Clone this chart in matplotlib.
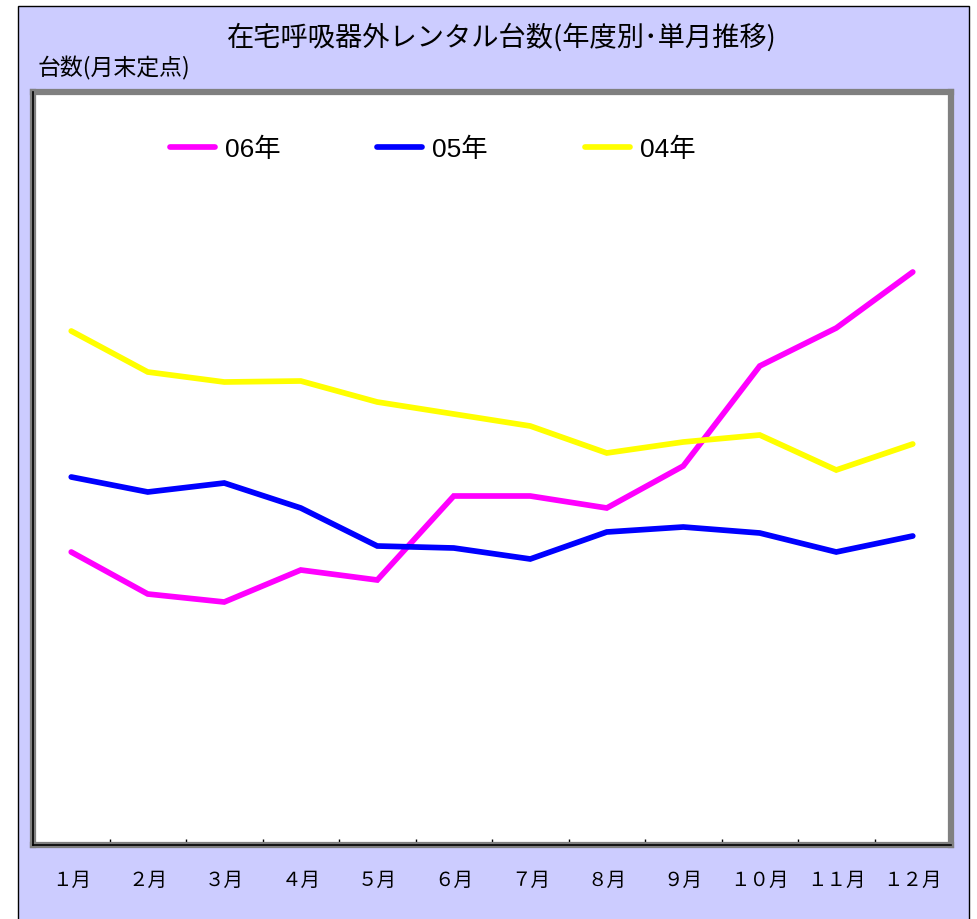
import matplotlib
matplotlib.use("Agg")
import matplotlib.pyplot as plt
from matplotlib.patches import Rectangle
from matplotlib.lines import Line2D
from matplotlib.ticker import FixedLocator

plt.rcParams['font.family'] = ['Liberation Sans', 'Noto Sans CJK JP', 'DejaVu Sans']

months = ["１月", "２月", "３月", "４月", "５月", "６月", "７月", "８月", "９月", "１０月", "１１月", "１２月"]
series_names = ["06年", "05年", "04年"]
values_06 = [293, 251, 243, 275, 265, 349, 349, 337, 379, 479, 517, 573]
values_05 = [368, 353, 362, 337, 299, 297, 286, 313, 318, 312, 293, 309]
values_04 = [514, 473, 463, 464, 443, 431, 419, 392, 403, 410, 375, 401]
colors = ["#FF00FF", "#0000FF", "#FFFF00"]

W, H = 977, 920
fig = plt.figure(figsize=(W / 100, H / 100), dpi=100)
fig.patch.set_facecolor("white")

# outer lavender chart area
fig.patches.append(Rectangle((18 / W, -0.02), (969 - 18) / W, 1 - 7 / H + 0.02,
                             transform=fig.transFigure, facecolor="#CCCCFF",
                             edgecolor="black", linewidth=1.0, zorder=-5))

left, right, top, bottom = 33, 951, 92.5, 846
ax = fig.add_axes([left / W, 1 - bottom / H, (right - left) / W, (bottom - top) / H])
ax.set_zorder(2)
ax.set_facecolor("white")

x = list(range(len(months)))
for vals, name, c in zip([values_06, values_05, values_04], series_names, colors):
    ax.plot(x, vals, color=c, linewidth=4.1, label=name, solid_capstyle="round",
            solid_joinstyle="miter", zorder=3)

ax.set_xlim(-0.5, 11.5)
ax.set_ylim(0, 753.5)
ax.set_yticks([])
ax.set_xticks(x)
ax.set_xticklabels(months, fontsize=14, color="black")
ax.tick_params(axis="x", which="major", length=0, pad=19)
ax.xaxis.set_minor_locator(FixedLocator([i + 0.5 for i in range(11)]))
ax.tick_params(axis="x", which="minor", direction="in", length=4, width=1, color="black")

for s in ax.spines.values():
    s.set_color("#808080")
    s.set_linewidth(4.5)
ax.add_line(Line2D([0, 0], [0, 1], transform=ax.transAxes, color="black", lw=1.2, zorder=5, clip_on=False))
ax.add_line(Line2D([0, 1], [0, 0], transform=ax.transAxes, color="black", lw=1.2, zorder=5, clip_on=False))

ax.legend(loc="center left", bbox_to_anchor=(170 / W, 1 - 150 / H), bbox_transform=fig.transFigure,
          ncol=3, frameon=False, fontsize=19, handlelength=1.7, handletextpad=0.38,
          columnspacing=3.67, borderpad=0, borderaxespad=0)

fig.text(502 / W, 1 - 37 / H, "在宅呼吸器外レンタル台数(年度別･単月推移)", ha="center", va="center",
         fontsize=19.6, family=["Noto Sans CJK JP", "DejaVu Sans"])
fig.text(38 / W, 1 - 68 / H, "台数(月末定点)", ha="left", va="center",
         fontsize=16.5, family=["Noto Sans CJK JP", "DejaVu Sans"])

fig.savefig("out.png", dpi=100, facecolor=fig.get_facecolor())
